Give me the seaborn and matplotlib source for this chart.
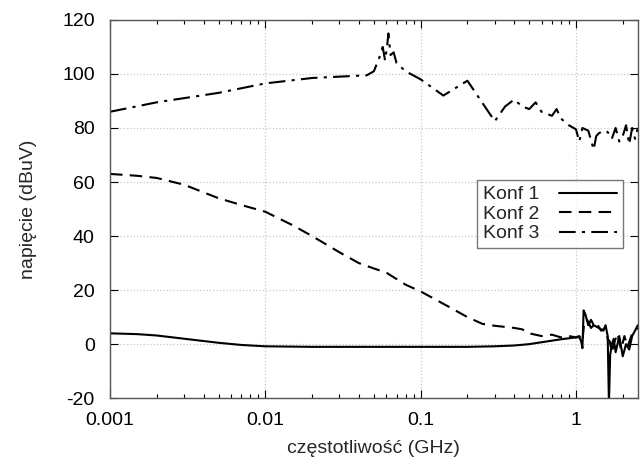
import numpy as np
import pandas as pd
import matplotlib
matplotlib.use('Agg')
import matplotlib.pyplot as plt
import seaborn as sns
from matplotlib.ticker import FixedLocator, FixedFormatter, LogLocator, NullFormatter

sns.set_style('ticks')
plt.rcParams['font.family'] = ['Liberation Sans', 'DejaVu Sans']
plt.rcParams['axes.unicode_minus'] = False

# Konf 1 (solid)
freq_1 = [0.001, 0.0015, 0.002, 0.003, 0.005, 0.007, 0.01, 0.02, 0.05, 0.1,
          0.2, 0.3, 0.4, 0.5, 0.6, 0.8, 1.0, 1.05, 1.08, 1.1, 1.12, 1.15,
          1.2, 1.25, 1.3, 1.4, 1.5, 1.55, 1.6, 1.63, 1.66, 1.7, 1.75, 1.8,
          1.9, 2.0, 2.1, 2.2, 2.3, 2.4, 2.5]
volt_1 = [4, 3.7, 3.2, 2, 0.5, -0.3, -0.8, -1, -1, -1,
          -1, -0.8, -0.5, 0, 0.7, 1.8, 2.5, 2.6, 1, -1.5, 12.5, 11,
          7, 9, 7, 6, 5, 7, 3, -22, -4, 0, 2, -3,
          3, -4.5, 0, -2, 3, 5, 7]

# Konf 2 (dashed)
freq_2 = [0.001, 0.0015, 0.002, 0.003, 0.005, 0.007, 0.01, 0.015, 0.02,
          0.03, 0.04, 0.05, 0.06, 0.08, 0.1, 0.15, 0.2, 0.25, 0.3, 0.4,
          0.45, 0.5, 0.6, 0.7, 0.8, 0.9, 1.0, 1.05, 1.1, 1.13, 1.18, 1.25,
          1.35, 1.45, 1.55, 1.6, 1.65, 1.7, 1.75, 1.85, 1.95, 2.05, 2.15,
          2.3, 2.5]
volt_2 = [63, 62.3, 61.5, 59, 54, 51.5, 49, 44, 40,
          34, 30, 28, 26.5, 22, 19.5, 14, 10, 7.5, 6.8, 6,
          5.5, 4, 3, 3.5, 2.5, 3, 2.5, 3, 1, 8, 9, 6,
          8, 5, 6, 2, 1, -3, 0, 4, -2, 3, -1,
          4, 6]

# Konf 3 (dash-dot)
freq_3 = [0.001, 0.002, 0.005, 0.01, 0.02, 0.03, 0.045, 0.05, 0.055,
          0.057, 0.059, 0.061, 0.062, 0.064, 0.067, 0.07, 0.08, 0.1, 0.14,
          0.2, 0.3, 0.35, 0.4, 0.45, 0.5, 0.55, 0.6, 0.7, 0.75, 0.8, 0.9,
          1.0, 1.05, 1.1, 1.2, 1.3, 1.35, 1.4, 1.5, 1.6, 1.7, 1.8, 1.9, 2.0,
          2.1, 2.2, 2.3, 2.4, 2.5]
volt_3 = [86, 89.5, 93, 96.5, 98.5, 99, 99.5, 101, 107,
          110, 105, 111, 115, 107, 108, 104, 101, 98, 92,
          97.5, 82.5, 88, 90.5, 88, 87, 89.5, 86, 84.5, 87, 83.5, 81,
          79.5, 75, 80, 79, 72, 77, 78, 79, 78.5, 76, 80, 75, 77,
          81, 74, 80, 76, 80]

series = [('Konf 1', freq_1, volt_1, None),
          ('Konf 2', freq_2, volt_2, (6, 3.5)),
          ('Konf 3', freq_3, volt_3, (8, 3, 1.5, 3))]

fig = plt.figure(figsize=(6.41, 4.63), dpi=100)
ax = fig.add_axes([0.1716, 0.140, 0.8234, 0.817])

for name, xs, ys, dash in series:
    df = pd.DataFrame({'f': xs, 'v': ys})
    sns.lineplot(data=df, x='f', y='v', ax=ax, color='black',
                 linewidth=1.5, label=name, estimator=None, sort=False)
    if dash is not None:
        ax.lines[-1].set_dashes(dash)

ax.set_xscale('log')
ax.set_xlim(0.001, 2.5)
ax.set_ylim(-20, 120)
ax.set_yticks(range(-20, 121, 20))
ax.xaxis.set_major_locator(FixedLocator([0.001, 0.01, 0.1, 1]))
ax.xaxis.set_major_formatter(FixedFormatter(['0.001', '0.01', '0.1', '1']))
ax.xaxis.set_minor_locator(LogLocator(base=10, subs=np.arange(2, 10)))
ax.xaxis.set_minor_formatter(NullFormatter())

ax.grid(True, which='major', color='#c8c8c8', linestyle=':', linewidth=0.9)
ax.tick_params(which='both', direction='in', top=True, right=True,
               labelsize=14, colors='black')
ax.tick_params(which='major', length=6, width=0.8)
ax.tick_params(which='minor', length=3, width=0.8)
ax.tick_params(axis='x', pad=10)
ax.tick_params(axis='y', pad=11)
for sp in ax.spines.values():
    sp.set_color('#555555')
    sp.set_linewidth(1.0)

ax.set_xlabel('częstotliwość (GHz)', fontsize=14)
ax.set_ylabel('napięcie (dBuV)', fontsize=14)
ax.xaxis.set_label_coords(0.5, -0.11)
ax.yaxis.set_label_coords(-0.138, 0.5)

leg = ax.legend(loc='upper right', bbox_to_anchor=(0.972, 0.577),
                markerfirst=False, fontsize=14, frameon=True, fancybox=False,
                handlelength=3.0, handletextpad=1.0, borderpad=0.3,
                labelspacing=0.1, borderaxespad=0)
leg.get_frame().set_edgecolor('#555555')
leg.get_frame().set_linewidth(1.0)

fig.savefig('out.png', dpi=100)
